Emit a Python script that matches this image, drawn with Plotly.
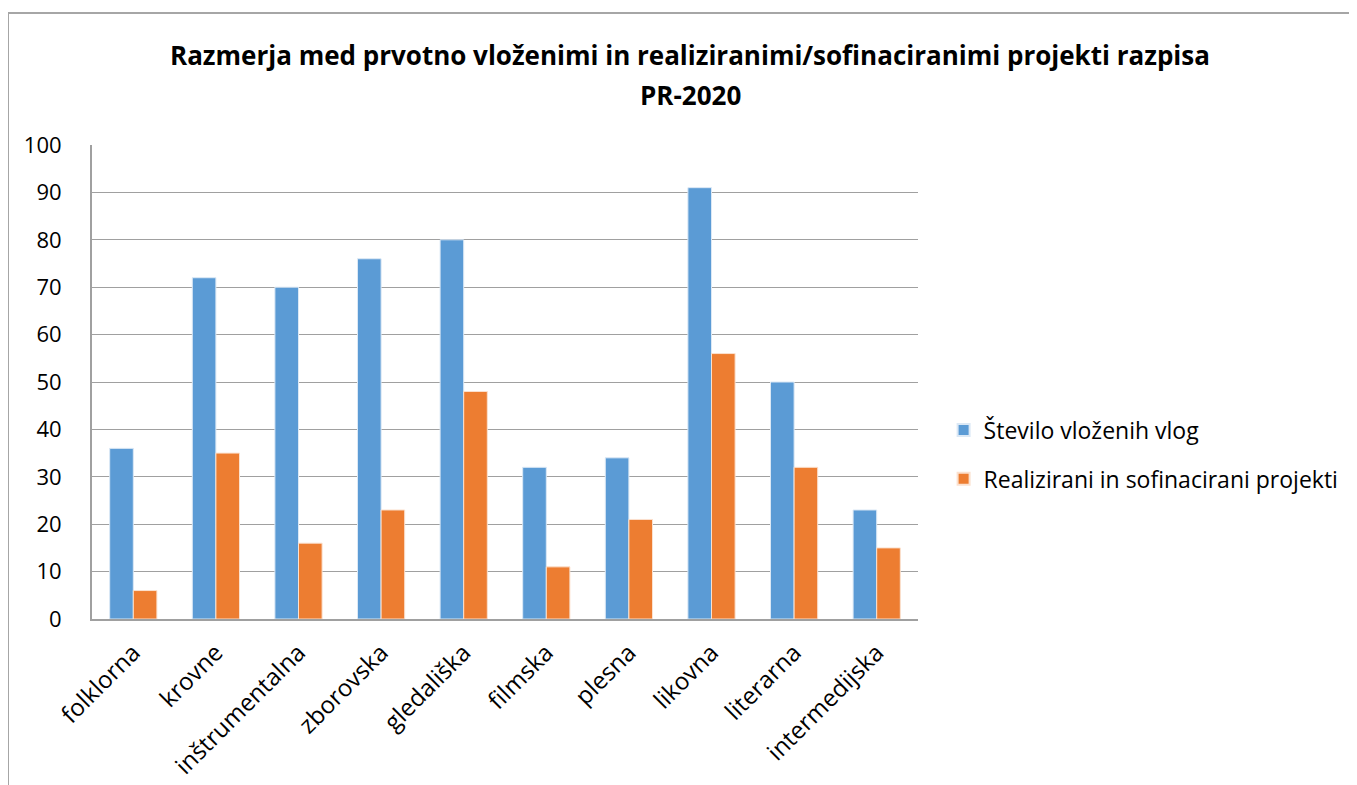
import plotly.graph_objects as go

categories = ["folklorna", "krovne", "inštrumentalna", "zborovska", "gledališka",
              "filmska", "plesna", "likovna", "literarna", "intermedijska"]
vlozene = [36, 72, 70, 76, 80, 32, 34, 91, 50, 23]
realizirani = [6, 35, 16, 23, 48, 11, 21, 56, 32, 15]
title_lines = ["Razmerja med prvotno vloženimi in realiziranimi/sofinaciranimi projekti razpisa",
               "PR-2020"]

font_family = "Open Sans, Liberation Sans, sans-serif"

fig = go.Figure()
fig.add_trace(go.Bar(x=categories, y=vlozene, name="Število vloženih vlog", legendgroup="a",
                     marker=dict(color="#5B9BD5", line=dict(color="#dbe8f5", width=1))))
fig.add_trace(go.Bar(x=categories, y=realizirani, name="Realizirani in sofinacirani projekti",
                     legendgroup="b",
                     marker=dict(color="#ED7D31", line=dict(color="#fbe1cf", width=1))))

fig.update_layout(
    width=1357, height=785,
    margin=dict(l=84, r=447, t=137, b=174),
    paper_bgcolor="white", plot_bgcolor="white",
    font=dict(family=font_family, color="black", size=20),
    barmode="group", bargap=0.4286, bargroupgap=0,
    legend=dict(x=1.031, y=0.347, xanchor="left", yanchor="middle",
                font=dict(size=23), tracegroupgap=16, itemsizing="constant"),
    showlegend=True,
)

# title as two lines with Excel-like line spacing
for text, ypos in zip(title_lines, [1.19, 1.1055]):
    fig.add_annotation(text="<b>" + text + "</b>", xref="paper", yref="paper",
                       x=0.724, y=ypos, xanchor="center", yanchor="middle",
                       showarrow=False, font=dict(size=26, family=font_family, color="black"))

fig.update_xaxes(tickangle=-45, showline=True, linecolor="#a0a0a0", linewidth=2,
                 ticks="", tickfont=dict(size=24), ticklabelstandoff=8)
fig.update_yaxes(range=[0, 100], dtick=10, showgrid=True, gridcolor="#a0a0a0", gridwidth=1,
                 showline=True, linecolor="#a0a0a0", linewidth=2, ticks="",
                 tickfont=dict(size=22), zeroline=False, ticklabelstandoff=24)

# chart area border (cut off at the right and bottom)
fig.add_shape(type="line", xref="paper", yref="paper", x0=-0.1017, x1=-0.1017, y0=1.2785, y1=-0.4,
              line=dict(color="#a6a6a6", width=2))
fig.add_shape(type="line", xref="paper", yref="paper", x0=-0.1017, x1=1.6, y0=1.2785, y1=1.2785,
              line=dict(color="#a6a6a6", width=2))

fig.write_html("out.html")
